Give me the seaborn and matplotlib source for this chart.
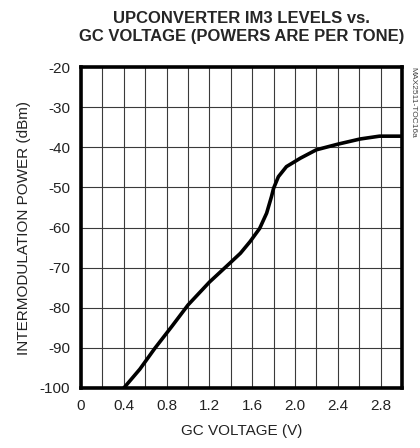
import matplotlib
matplotlib.use('Agg')
import matplotlib.pyplot as plt
import seaborn as sns
import pandas as pd
import numpy as np

gc_voltage = [0.40, 0.55, 0.69, 0.85, 1.00, 1.20, 1.39, 1.49, 1.58, 1.67, 1.735, 1.78, 1.80,
              1.845, 1.92, 2.05, 2.20, 2.40, 2.61, 2.79, 3.00]
im3_power = [-100.0, -95.3, -90.1, -84.6, -79.3, -73.6, -68.9, -66.4, -63.5, -60.2, -56.4, -52.3,
             -50.2, -47.3, -44.8, -42.7, -40.6, -39.2, -37.9, -37.2, -37.2]

x_ticks = [0, 0.4, 0.8, 1.2, 1.6, 2.0, 2.4, 2.8]
x_tick_labels = ['0', '0.4', '0.8', '1.2', '1.6', '2.0', '2.4', '2.8']
y_ticks = [-100, -90, -80, -70, -60, -50, -40, -30, -20]

sns.set_style('white')
plt.rcParams['font.family'] = ['Liberation Sans Narrow', 'Liberation Sans', 'DejaVu Sans']

df = pd.DataFrame({'gc': gc_voltage, 'im3': im3_power})

fig = plt.figure(figsize=(4.2, 4.48), dpi=100)
ax = fig.add_axes([0.193, 0.134, 0.764, 0.716])

sns.lineplot(data=df, x='gc', y='im3', color='black', linewidth=2.6, ax=ax, zorder=3)

ax.set_xlim(0, 3.0)
ax.set_ylim(-100, -20)
ax.set_xticks(np.arange(0, 3.01, 0.2), minor=True)
ax.set_xticks(x_ticks)
ax.set_xticklabels(x_tick_labels, fontsize=11, color='#222222')
ax.set_yticks(y_ticks)
ax.set_yticklabels([str(v) for v in y_ticks], fontsize=11, color='#222222')
ax.grid(True, which='both', color='#3a3a3a', linewidth=0.8)
ax.tick_params(axis='both', which='both', length=0, pad=8)
for s in ax.spines.values():
    s.set_linewidth(2.6)
    s.set_color('black')

ax.set_xlabel('GC VOLTAGE (V)', fontsize=11, labelpad=8, color='#222222')
ax.set_ylabel('INTERMODULATION POWER (dBm)', fontsize=11, labelpad=6, color='#222222')

fig.text(0.575, 0.975, 'UPCONVERTER IM3 LEVELS vs.\nGC VOLTAGE (POWERS ARE PER TONE)',
         ha='center', va='top', fontsize=12, fontweight='bold', linespacing=1.25)
fig.text(0.983, 0.85, 'MAX2511-TOC16a', rotation=270, ha='center', va='top',
         fontsize=6, color='#444444')

fig.savefig('out.png', dpi=100)
